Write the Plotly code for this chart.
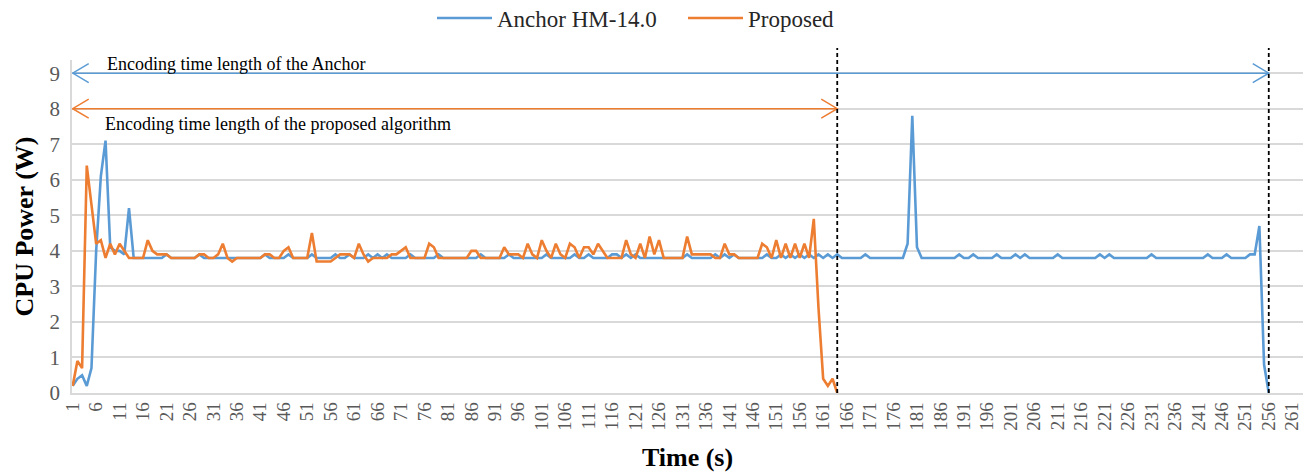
import plotly.graph_objects as go

# ---------------- data ----------------
anchor_power = [
    0.2, 0.4, 0.5, 0.2, 0.7, 4.0, 6.1, 7.1, 4.1, 4.0,
    4.0, 3.9, 5.2, 3.8, 3.8, 3.8, 3.8, 3.8, 3.8, 3.8,
    3.9, 3.8, 3.8, 3.8, 3.8, 3.8, 3.8, 3.9, 3.8, 3.8,
    3.8, 3.8, 3.8, 3.8, 3.8, 3.8, 3.8, 3.8, 3.8, 3.8,
    3.8, 3.9, 3.8, 3.8, 3.8, 3.8, 3.9, 3.8, 3.8, 3.8,
    3.8, 3.9, 3.8, 3.8, 3.8, 3.8, 3.9, 3.8, 3.8, 3.9,
    3.8, 3.8, 3.8, 3.9, 3.8, 3.9, 3.8, 3.9, 3.8, 3.8,
    3.8, 3.8, 3.9, 3.8, 3.8, 3.8, 3.8, 3.8, 3.9, 3.8,
    3.8, 3.8, 3.8, 3.8, 3.8, 3.8, 3.8, 3.9, 3.8, 3.8,
    3.8, 3.8, 3.8, 3.9, 3.8, 3.8, 3.8, 3.8, 3.8, 3.8,
    3.8, 3.9, 3.8, 3.8, 3.8, 3.8, 3.8, 3.9, 3.8, 3.8,
    3.9, 3.8, 3.8, 3.8, 3.8, 3.9, 3.9, 3.8, 3.9, 3.8,
    3.9, 3.8, 3.8, 3.8, 3.8, 3.8, 3.8, 3.8, 3.8, 3.8,
    3.8, 3.9, 3.8, 3.8, 3.8, 3.8, 3.8, 3.9, 3.8, 3.9,
    3.8, 3.9, 3.8, 3.8, 3.8, 3.8, 3.8, 3.8, 3.9, 3.8,
    3.8, 3.9, 3.8, 3.9, 3.8, 3.9, 3.8, 3.9, 3.8, 3.9,
    3.8, 3.9, 3.8, 3.9, 3.8, 3.8, 3.8, 3.8, 3.8, 3.9,
    3.8, 3.8, 3.8, 3.8, 3.8, 3.8, 3.8, 3.8, 4.2, 7.8,
    4.1, 3.8, 3.8, 3.8, 3.8, 3.8, 3.8, 3.8, 3.8, 3.9,
    3.8, 3.8, 3.9, 3.8, 3.8, 3.8, 3.8, 3.9, 3.8, 3.8,
    3.8, 3.9, 3.8, 3.9, 3.8, 3.8, 3.8, 3.8, 3.8, 3.8,
    3.9, 3.8, 3.8, 3.8, 3.8, 3.8, 3.8, 3.8, 3.8, 3.9,
    3.8, 3.9, 3.8, 3.8, 3.8, 3.8, 3.8, 3.8, 3.8, 3.8,
    3.9, 3.8, 3.8, 3.8, 3.8, 3.8, 3.8, 3.8, 3.8, 3.8,
    3.8, 3.8, 3.9, 3.8, 3.8, 3.8, 3.9, 3.8, 3.8, 3.8,
    3.8, 3.9, 3.9, 4.7, 0.8, 0.0,
]

proposed_power = [
    0.2, 0.9, 0.7, 6.4, 5.3, 4.2, 4.3, 3.8, 4.2, 3.9,
    4.2, 4.0, 3.8, 3.8, 3.8, 3.8, 4.3, 4.0, 3.9, 3.9,
    3.9, 3.8, 3.8, 3.8, 3.8, 3.8, 3.8, 3.9, 3.9, 3.8,
    3.8, 3.9, 4.2, 3.8, 3.7, 3.8, 3.8, 3.8, 3.8, 3.8,
    3.8, 3.9, 3.9, 3.8, 3.8, 4.0, 4.1, 3.8, 3.8, 3.8,
    3.8, 4.5, 3.7, 3.7, 3.7, 3.7, 3.8, 3.9, 3.9, 3.9,
    3.8, 4.2, 3.9, 3.7, 3.8, 3.8, 3.8, 3.8, 3.9, 3.9,
    4.0, 4.1, 3.8, 3.8, 3.8, 3.8, 4.2, 4.1, 3.8, 3.8,
    3.8, 3.8, 3.8, 3.8, 3.8, 4.0, 4.0, 3.8, 3.8, 3.8,
    3.8, 3.8, 4.1, 3.9, 3.9, 3.9, 3.8, 4.2, 3.9, 3.8,
    4.3, 4.0, 3.8, 4.2, 3.9, 3.8, 4.2, 4.1, 3.8, 4.1,
    4.1, 3.9, 4.2, 4.0, 3.8, 3.8, 3.8, 3.8, 4.3, 3.9,
    3.8, 4.2, 3.8, 4.4, 3.9, 4.3, 3.8, 3.8, 3.8, 3.8,
    3.8, 4.4, 3.9, 3.9, 3.9, 3.9, 3.9, 3.8, 3.8, 4.2,
    3.9, 3.9, 3.8, 3.8, 3.8, 3.8, 3.8, 4.2, 4.1, 3.8,
    4.3, 3.8, 4.2, 3.8, 4.2, 3.8, 4.2, 3.8, 4.9, 2.4,
    0.4, 0.2, 0.4, 0.0,
]

anchor_time = list(range(1, len(anchor_power) + 1))
proposed_time = list(range(1, len(proposed_power) + 1))
tick_labels = list(range(1, 262, 5))

series_names = ["Anchor HM-14.0", "Proposed"]
arrow_labels = ["Encoding time length of the Anchor",
                "Encoding time length of the proposed algorithm"]
arrow_levels = [9, 8]

# ---------------- styling ----------------
BLUE = "#5B9BD5"
ORANGE = "#ED7D31"
GRID = "#D9D9D9"
TICK = "#595959"
FONT = "Liberation Serif"

W, H = 1307, 475
ML, MR, MT, MB = 72, 4, 60, 82
XR = [0.85, 263.3]
YR = [0, 9.37]
PW = W - ML - MR
PH = H - MT - MB
px_per_x = PW / (XR[1] - XR[0])
px_per_y = PH / (YR[1] - YR[0])

fig = go.Figure()
fig.add_trace(go.Scatter(x=anchor_time, y=anchor_power, mode="lines",
                         name=series_names[0],
                         line=dict(color=BLUE, width=2.6)))
fig.add_trace(go.Scatter(x=proposed_time, y=proposed_power, mode="lines",
                         name=series_names[1],
                         line=dict(color=ORANGE, width=2.6)))

shapes = []
ends = [anchor_time[-1], proposed_time[-1]]
colors = [BLUE, ORANGE]
dx = 16 / px_per_x
dy = 9.5 / px_per_y
for end, lvl, col in zip(ends, arrow_levels, colors):
    x0 = anchor_time[0]
    shapes.append(dict(type="line", xref="x", yref="y", x0=x0, x1=end,
                       y0=lvl, y1=lvl, line=dict(color=col, width=1.5)))
    shapes.append(dict(type="path", xref="x", yref="y",
                       path=f"M{x0+dx},{lvl+dy} L{x0},{lvl} L{x0+dx},{lvl-dy}",
                       line=dict(color=col, width=1.5)))
    shapes.append(dict(type="path", xref="x", yref="y",
                       path=f"M{end-dx},{lvl+dy} L{end},{lvl} L{end-dx},{lvl-dy}",
                       line=dict(color=col, width=1.5)))
    shapes.append(dict(type="line", xref="x", yref="paper", x0=end, x1=end,
                       y0=0, y1=1 + 12 / PH,
                       line=dict(color="black", width=1.8, dash="4px,3px")))

annotations = [
    dict(x=anchor_time[0] + 32 / px_per_x, y=arrow_levels[0] + 0.27,
         xref="x", yref="y", text=arrow_labels[0], showarrow=False,
         xanchor="left", yanchor="middle",
         font=dict(family=FONT, size=18, color="black")),
    dict(x=anchor_time[0] + 30 / px_per_x, y=arrow_levels[1] - 0.42,
         xref="x", yref="y", text=arrow_labels[1], showarrow=False,
         xanchor="left", yanchor="middle",
         font=dict(family=FONT, size=18, color="black")),
]

fig.update_layout(
    width=W, height=H,
    margin=dict(l=ML, r=MR, t=MT, b=MB, autoexpand=False),
    paper_bgcolor="white", plot_bgcolor="white",
    font=dict(family=FONT, color=TICK),
    shapes=shapes, annotations=annotations,
    legend=dict(orientation="h", x=(432 - ML) / PW, xanchor="left",
                y=1 + (MT - 18) / PH, yanchor="middle",
                font=dict(family=FONT, size=23, color="#262626"),
                itemwidth=55, entrywidth=181, entrywidthmode="pixels",
                bgcolor="rgba(0,0,0,0)"),
    showlegend=True,
)
fig.update_xaxes(range=XR, tickmode="array", tickvals=tick_labels,
                 ticktext=[str(t) for t in tick_labels], tickangle=-90,
                 tickfont=dict(family=FONT, size=19, color=TICK),
                 showgrid=False, zeroline=False, showline=True,
                 linecolor=GRID, linewidth=1.5, ticks="",
                 title=dict(text="<b>Time (s)</b>", standoff=18,
                            font=dict(family=FONT, size=26, color="black")))
fig.update_yaxes(range=YR, tickmode="array", tickvals=list(range(0, 10)),
                 tickfont=dict(family=FONT, size=21, color=TICK),
                 showgrid=True, gridcolor=GRID, gridwidth=1.5,
                 zeroline=False, showline=True, linecolor=GRID, linewidth=1.5,
                 ticks="", ticklabelstandoff=6,
                 title=dict(text="<b>CPU Power (W)</b>", standoff=8,
                            font=dict(family=FONT, size=26, color="black")))

fig.write_html("out.html")
